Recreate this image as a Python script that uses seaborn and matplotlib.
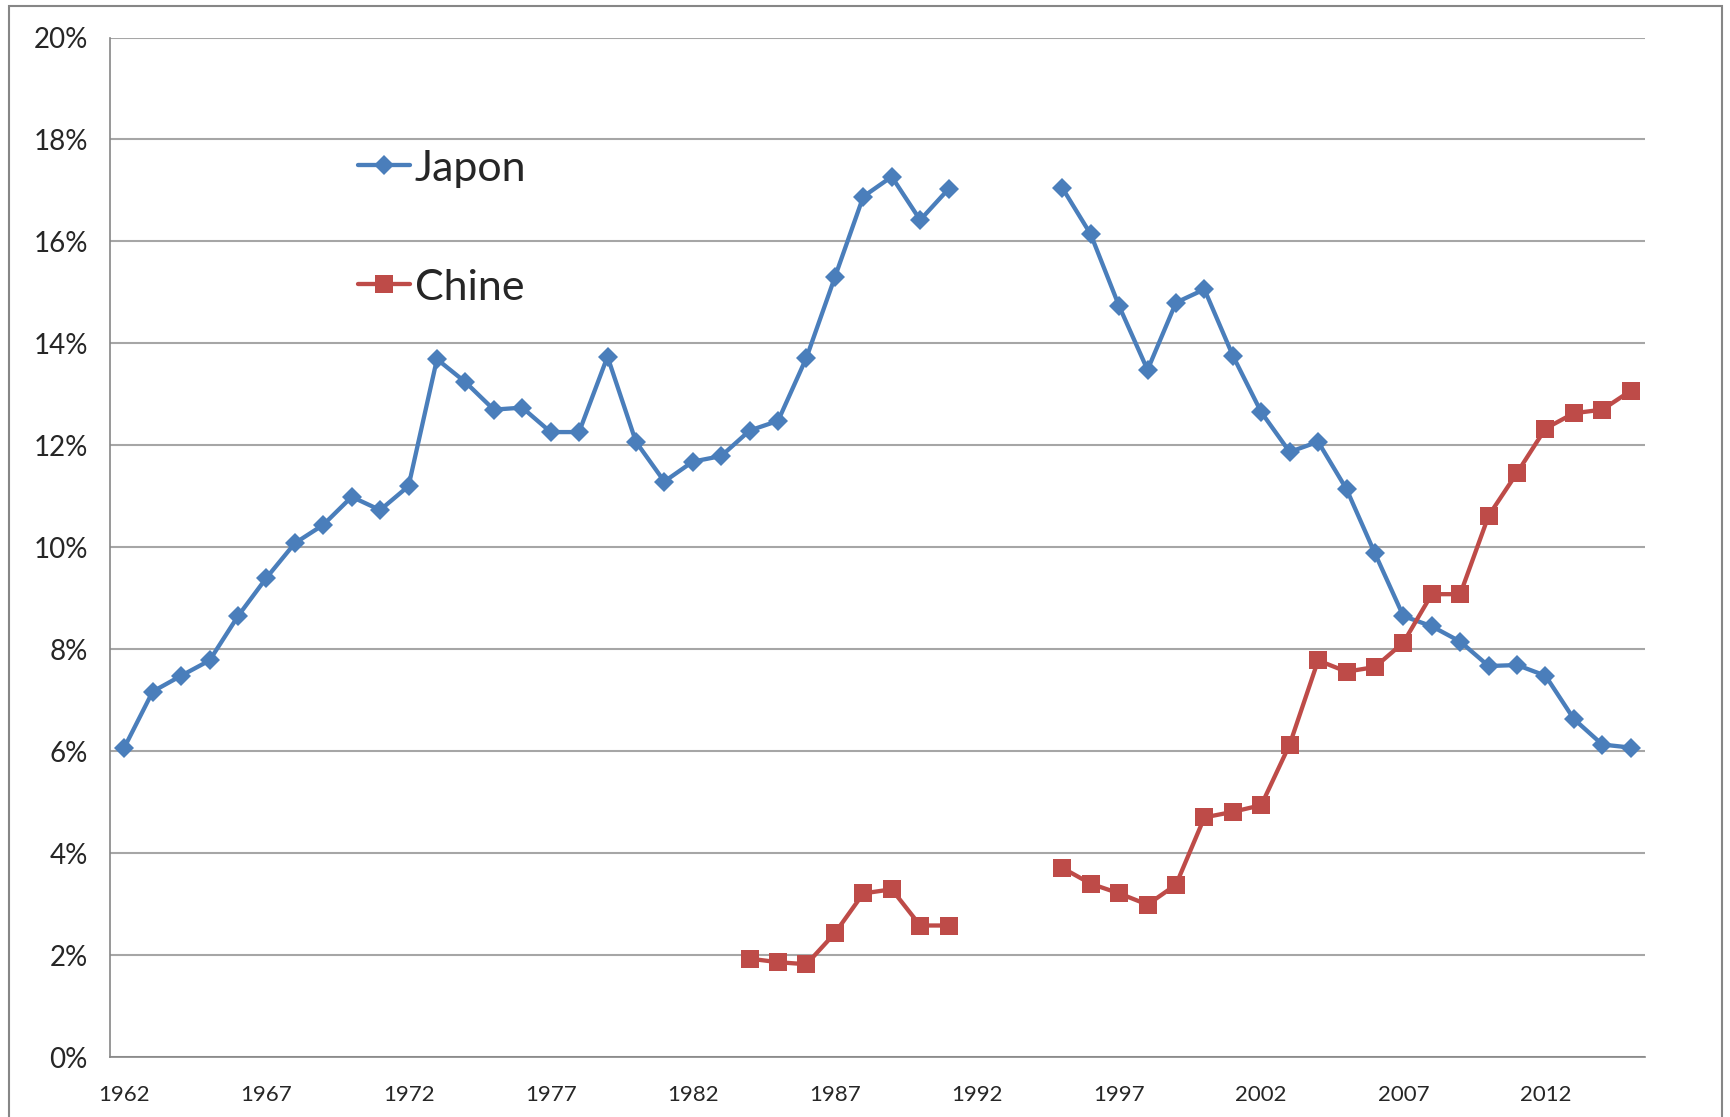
import numpy as np
import pandas as pd
import matplotlib
matplotlib.use('Agg')
import matplotlib.pyplot as plt
import seaborn as sns
from matplotlib.patches import Rectangle
from matplotlib.ticker import FixedLocator, FuncFormatter

# ── data (share in %, gap 1992-1994) ─────────────────────────────────────────
years = list(range(1962, 2016))
japon = [6.07, 7.17, 7.48, 7.78, 8.65, 9.40, 10.08, 10.44, 10.99, 10.73,
         11.20, 13.69, 13.24, 12.70, 12.74, 12.26, 12.26, 13.74, 12.07, 11.29,
         11.68, 11.79, 12.29, 12.48, 13.72, 15.30, 16.88, 17.27, 16.42, 17.03,
         np.nan, np.nan, np.nan,
         17.05, 16.14, 14.73, 13.48, 14.80, 15.06, 13.76, 12.65, 11.87, 12.07,
         11.14, 9.88, 8.65, 8.45, 8.15, 7.67, 7.69, 7.48, 6.63, 6.13, 6.07]
chine = [np.nan] * 22 + [
         1.93, 1.86, 1.82, 2.43, 3.21, 3.29, 2.58, 2.58,
         np.nan, np.nan, np.nan,
         3.71, 3.40, 3.21, 2.99, 3.38, 4.70, 4.81, 4.94, 6.13, 7.78,
         7.56, 7.65, 8.13, 9.08, 9.08, 10.62, 11.46, 12.33, 12.63, 12.70, 13.07]
series_names = ['Japon', 'Chine']
tick_years = list(range(1962, 2016, 5))

BLUE = '#4A7EBB'
RED = '#BE4B48'
GRID = '#A6A6A6'
LW = 3.1

rows = []
for name, vals in zip(series_names, [japon, chine]):
    seg = 0
    for yr, v in zip(years, vals):
        if np.isnan(v):
            seg += 1
            continue
        rows.append({'year': yr, 'value': v, 'serie': name, 'seg': f'{name}{seg}'})
df = pd.DataFrame(rows)

sns.set_style('white')
plt.rcParams['font.family'] = ['Lato', 'DejaVu Sans']

fig = plt.figure(figsize=(17.31, 11.17), dpi=100)
ax = fig.add_axes([0.0636, 0.0537, 0.8867, 0.9127])

sns.lineplot(data=df, x='year', y='value', hue='serie', style='serie',
             units='seg', estimator=None, hue_order=series_names,
             palette={'Japon': BLUE, 'Chine': RED},
             markers={'Japon': 'D', 'Chine': 's'}, dashes=False,
             linewidth=LW, markersize=10, markeredgewidth=0, ax=ax, legend=False)
# bigger squares for Chine
for line in ax.lines:
    if line.get_marker() == 's':
        line.set_markersize(13)

ax.set_xlim(1961.5, 2015.5)
ax.set_ylim(0, 20)
ax.set_yticks(np.arange(0, 21, 2))
ax.yaxis.set_major_formatter(FuncFormatter(lambda v, p: f'{v:.0f}%'))
ax.set_xticks(tick_years)
ax.xaxis.set_minor_locator(FixedLocator(np.arange(1961.5, 2016, 1)))
ax.tick_params(axis='x', which='major', length=0, labelsize=16, pad=20)
ax.tick_params(axis='x', which='minor', length=9, width=1, color='#868686',
               direction='out')
ax.tick_params(axis='y', length=9, width=1, color='#868686', direction='out',
               labelsize=20, pad=7)
ax.grid(axis='y', color=GRID, linewidth=1.5)
ax.grid(axis='x', visible=False)
ax.set_axisbelow(True)
for s in ['top', 'right']:
    ax.spines[s].set_visible(False)
for s in ['left', 'bottom']:
    ax.spines[s].set_color('#868686')
    ax.spines[s].set_linewidth(1.2)
ax.set_xlabel('')
ax.set_ylabel('')

# legend
handles = [plt.Line2D([], [], color=BLUE, marker='D', markersize=10, linewidth=LW,
                      markeredgewidth=0),
           plt.Line2D([], [], color=RED, marker='s', markersize=13, linewidth=LW,
                      markeredgewidth=0)]
ax.legend(handles, series_names, loc='upper left', bbox_to_anchor=(0.1502, 0.907),
          frameon=False, fontsize=31, labelspacing=1.88, handlelength=1.2,
          handletextpad=0.12, borderaxespad=0)

# outer chart border
fig.patches.append(Rectangle((0.005, -0.01), 0.99, 1.005, transform=fig.transFigure,
                             fill=False, edgecolor='#868686', linewidth=1.5))

fig.savefig('out.png', dpi=100)
